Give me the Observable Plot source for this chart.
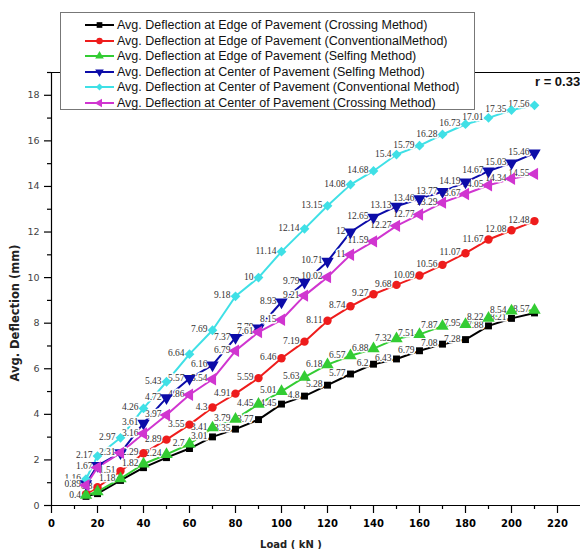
<!DOCTYPE html>
<html><head><meta charset="utf-8">
<script src="https://cdn.jsdelivr.net/npm/d3@7"></script>
<script src="https://cdn.jsdelivr.net/npm/@observablehq/plot@0.6"></script>
<style>
body{margin:0;background:#fff;}
#wrap{position:relative;width:580px;height:549px;overflow:hidden;background:#fff;}
#legend{position:absolute;left:60px;top:12px;width:415px;height:98px;border:1px solid #777;background:#fff;box-sizing:border-box;font-family:"Liberation Sans",Arial,sans-serif;font-size:12.5px;color:#111;}
.row{position:absolute;left:0;height:16px;width:410px;white-space:nowrap;}
.row svg{position:absolute;left:24px;top:0;}
.row span{position:absolute;left:56px;top:0;line-height:16px;}
#rtext{position:absolute;left:535px;top:74px;font:bold 13px "Liberation Sans",Arial,sans-serif;color:#111;white-space:nowrap;}
</style></head><body><div id="wrap"></div>
<script>
// ---- data ----
const loads = [15,20,30,40,50,60,70,80,90,100,110,120,130,140,150,160,170,180,190,200,210];
const edgeCrossing      = [0.4,0.52,1.1,1.66,2.1,2.5,3.01,3.35,3.77,4.45,4.8,5.28,5.77,6.2,6.43,6.79,7.08,7.28,7.88,8.21,8.45];
const edgeConventional  = [0.5,0.8,1.51,2.29,2.89,3.55,4.3,4.91,5.59,6.46,7.19,8.11,8.74,9.27,9.68,10.09,10.56,11.07,11.67,12.08,12.48];
const edgeSelfing       = [0.45,0.61,1.18,1.82,2.24,2.7,3.41,3.79,4.45,5.01,5.63,6.18,6.57,6.88,7.32,7.51,7.87,7.95,8.22,8.54,8.57];
const centerSelfing     = [0.95,1.75,2.31,3.61,4.72,5.57,6.16,7.37,7.79,8.93,9.79,10.71,12,12.65,13.13,13.46,13.77,14.19,14.67,15.03,15.46];
const centerConventional= [1.16,2.17,2.97,4.26,5.43,6.64,7.69,9.18,10,11.14,12.14,13.15,14.08,14.68,15.4,15.79,16.28,16.73,17.01,17.35,17.56];
const centerCrossing    = [0.89,1.67,2.31,3.16,3.97,4.86,5.54,6.79,7.61,8.15,9.21,10.02,11,11.59,12.27,12.77,13.29,13.67,14.05,14.34,14.55];
// which points carry a visible value label in the reference (1 = labelled)
const edgeCrossingLabelled       = [1,0,0,0,0,0,1,1,1,1,1,1,1,1,1,1,1,1,1,1,0];
const edgeConventionalLabelled   = [0,1,1,1,1,1,1,1,1,1,1,1,1,1,1,1,1,1,1,1,1];
const edgeSelfingLabelled        = [0,0,1,1,1,1,1,1,1,1,1,1,1,1,1,1,1,1,1,1,1];
const centerSelfingLabelled      = [0,0,1,1,1,1,1,1,1,1,1,1,1,1,1,1,1,1,1,1,1];
const centerConventionalLabelled = [1,1,1,1,1,1,1,1,1,1,1,1,1,1,1,1,1,1,1,1,1];
const centerCrossingLabelled     = [1,1,0,1,1,1,1,1,1,1,1,1,1,1,1,1,1,1,1,1,1];
const seriesNames = [
  "Avg. Deflection at Edge of Pavement (Crossing Method)",
  "Avg. Deflection at Edge of Pavement (ConventionalMethod)",
  "Avg. Deflection at Edge of Pavement (Selfing Method)",
  "Avg. Deflection at Center of Pavement (Selfing Method)",
  "Avg. Deflection at Center of Pavement (Conventional Method)",
  "Avg. Deflection at Center of Pavement (Crossing Method)"
];
const seriesValues = [edgeCrossing, edgeConventional, edgeSelfing, centerSelfing, centerConventional, centerCrossing];
const seriesLabelled = [edgeCrossingLabelled, edgeConventionalLabelled, edgeSelfingLabelled, centerSelfingLabelled, centerConventionalLabelled, centerCrossingLabelled];
const xMajorTicks = [0,20,40,60,80,100,120,140,160,180,200,220];
const xMinorTicks = [10,30,50,70,90,110,130,150,170,190,210];
const yMajorTicks = [0,2,4,6,8,10,12,14,16,18];
const yMinorTicks = [1,3,5,7,9,11,13,15,17,19];
const xTitle = "Load ( kN )";
const yTitle = "Avg. Deflection (mm)";
const rNote = "r = 0.33";

// ---- styles ----
function tri(dir){
  return {draw(ctx, size){
    const a = Math.sqrt(4*size/Math.sqrt(3)), h = Math.sqrt(3)/2*a;
    if (dir==="down"){ ctx.moveTo(0,2*h/3); ctx.lineTo(a/2,-h/3); ctx.lineTo(-a/2,-h/3); }
    else if (dir==="left"){ ctx.moveTo(-2*h/3,0); ctx.lineTo(h/3,-a/2); ctx.lineTo(h/3,a/2); }
    else { ctx.moveTo(0,-2*h/3); ctx.lineTo(a/2,h/3); ctx.lineTo(-a/2,h/3); }
    ctx.closePath();
  }};
}
const colors = ["#000000","#ee1c1c","#33cc33","#0c0ca8","#3fe0e6","#d035d0"];
const symbols = [d3.symbolSquare, d3.symbolCircle, tri("up"), tri("down"), d3.symbolDiamond2, tri("left")];
const radii = [3.9, 4.2, 4.6, 4.6, 4.4, 4.6];

const series = seriesNames.map((name,i)=>({
  name, color: colors[i], symbol: symbols[i], r: radii[i],
  rows: loads.map((l,j)=>({load:l, value:seriesValues[i][j], label: seriesLabelled[i][j] ? String(seriesValues[i][j]) : ""}))
}));

const marks = [
  Plot.ruleY([19], {stroke:"#000", strokeWidth:1.2}),
  Plot.ruleX([0], {stroke:"#000", strokeWidth:1.2}),
  Plot.ruleY([0], {stroke:"#000", strokeWidth:1.2}),
  Plot.axisY(yMajorTicks, {tickSize:7, tickPadding:5, fontSize:9.5, fontFamily:"DejaVu Sans", label:null, strokeWidth:1.2}),
  Plot.axisY(yMinorTicks, {tickSize:4, tickFormat:()=>"", label:null, strokeWidth:1.2}),
  Plot.axisX(xMajorTicks, {tickSize:8, tickPadding:6, fontSize:10, fontWeight:"bold", fontFamily:"DejaVu Sans", label:null, strokeWidth:1.2}),
  Plot.axisX(xMinorTicks, {tickSize:4, tickFormat:()=>"", label:null, strokeWidth:1.2}),
];
series.forEach(s=>marks.push(Plot.line(s.rows, {x:"load", y:"value", stroke:s.color, strokeWidth:2})));
series.forEach(s=>marks.push(Plot.text(s.rows.filter(d=>d.label), {x:"load", y:"value", text:"label", textAnchor:"end", dx:-5, dy:-1,
  fontFamily:"Liberation Serif", fontSize:9.5, fill:"#333", stroke:"white", strokeWidth:3, paintOrder:"stroke"})));
series.forEach(s=>marks.push(Plot.dot(s.rows, {x:"load", y:"value", symbol:s.symbol, r:s.r, fill:s.color, stroke:"none"})));

const plot = Plot.plot({
  width:580, height:549,
  marginLeft:51, marginRight:0, marginTop:72, marginBottom:44,
  x:{domain:[0,230]}, y:{domain:[0,19]},
  style:{fontFamily:"DejaVu Sans", background:"white", color:"#000", overflow:"visible"},
  marks
});
const wrap = document.getElementById("wrap");
wrap.appendChild(plot);

const svg = d3.select(plot);
svg.selectAll('g[aria-label="y-axis tick label"]').attr("fill","#444");
svg.append("text").attr("x",291).attr("y",548).attr("text-anchor","middle")
  .attr("font-family","DejaVu Sans").attr("font-weight","bold").attr("font-size",10).attr("fill","#222").text(xTitle);
svg.append("text").attr("transform","translate(19,313) rotate(-90)").attr("text-anchor","middle")
  .attr("font-family","DejaVu Sans").attr("font-weight","bold").attr("font-size",11.5).attr("fill","#222").text(yTitle);

// legend
const legend = d3.select(wrap).append("div").attr("id","legend");
series.forEach((s,i)=>{
  const row = legend.append("div").attr("class","row").style("top", (12 + i*15.6 - 8) + "px");
  const sv = row.append("svg").attr("width",29).attr("height",16);
  sv.append("line").attr("x1",0).attr("x2",29).attr("y1",8).attr("y2",8).attr("stroke",s.color).attr("stroke-width",2);
  sv.append("path").attr("transform","translate(14.5,8)")
    .attr("d", d3.symbol().type(s.symbol).size(Math.PI*3.2*3.2)()).attr("fill",s.color);
  row.append("span").text(s.name);
});
d3.select(wrap).append("div").attr("id","rtext").text(rNote);
</script>
</body></html>
